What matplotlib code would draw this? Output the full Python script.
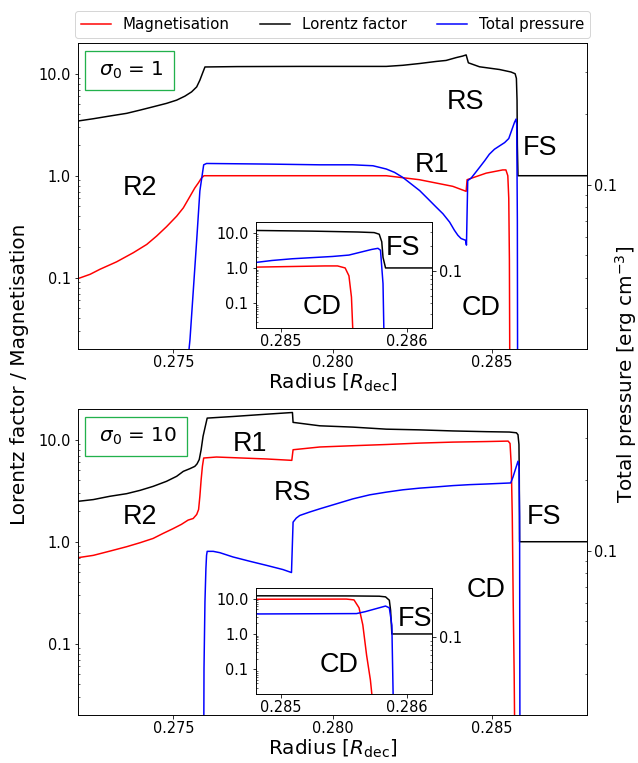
import matplotlib
matplotlib.use("Agg")
import matplotlib.pyplot as plt
from matplotlib.ticker import FormatStrFormatter, NullFormatter

# ---------------- sigma_0 = 1 ----------------
radius_gamma_s1 = [0.27200, 0.27248, 0.27300, 0.27353, 0.27395, 0.27436, 0.27478, 0.27510,
                   0.27536, 0.27557, 0.27573, 0.27583, 0.27591, 0.27599, 0.27700, 0.27900,
                   0.28100, 0.28169, 0.28221, 0.28274, 0.28326, 0.28357, 0.28389, 0.28409,
                   0.28420, 0.28427, 0.28462, 0.28525, 0.28561, 0.28574, 0.28578, 0.28580,
                   0.28581, 0.28583, 0.28800]
gamma_s1 = [3.44, 3.62, 3.85, 4.09, 4.40, 4.74, 5.12, 5.51,
            6.03, 6.64, 7.43, 8.64, 10.05, 11.65, 11.75, 11.8,
            11.8, 11.8, 12.1, 12.6, 13.2, 13.5, 14.4, 14.9,
            15.3, 12.8, 11.7, 11.0, 10.4, 10.0, 9.0, 5.5,
            2.0, 1.0, 1.0]

radius_sigma_s1 = [0.27200, 0.27238, 0.27269, 0.27321, 0.27374, 0.27416, 0.27447, 0.27478,
                   0.27510, 0.27531, 0.27552, 0.27567, 0.27578, 0.27588, 0.27596, 0.27900,
                   0.28169, 0.28273, 0.28378, 0.28420, 0.28423, 0.28483, 0.28535, 0.28545,
                   0.28551, 0.28554, 0.28556, 0.28557, 0.28558, 0.28600]
sigma_s1 = [0.098, 0.108, 0.121, 0.143, 0.176, 0.212, 0.256, 0.316,
            0.401, 0.484, 0.628, 0.758, 0.848, 0.949, 1.0, 1.0,
            1.0, 0.914, 0.787, 0.703, 0.914, 1.06, 1.14, 1.14,
            1.0, 0.6, 0.15, 0.02, 1e-4, 1e-4]

radius_ptot_s1 = [0.27200, 0.27520, 0.27552, 0.27573, 0.27583, 0.27595, 0.27604, 0.27792,
                  0.27960, 0.28063, 0.28127, 0.28169, 0.28195, 0.28221, 0.28247, 0.28274,
                  0.28300, 0.28326, 0.28347, 0.28368, 0.28383, 0.28394, 0.28404, 0.28418,
                  0.28421, 0.28425, 0.28436, 0.28446, 0.28462, 0.28478, 0.28493, 0.28509,
                  0.28525, 0.28541, 0.28554, 0.28563, 0.28572, 0.28577, 0.28579, 0.28581,
                  0.28582, 0.28800]
ptot_s1 = [1e-4, 0.008, 0.022, 0.058, 0.094, 0.1214, 0.1230, 0.1223,
           0.1214, 0.1214, 0.1203, 0.1165, 0.1127, 0.1073, 0.1007, 0.0943,
           0.0870, 0.0802, 0.0752, 0.0693, 0.0640, 0.0609, 0.0590, 0.0580,
           0.0553, 0.1040, 0.1067, 0.1110, 0.1183, 0.1262, 0.1347, 0.1414,
           0.1461, 0.1509, 0.157, 0.170, 0.184, 0.190, 0.180, 0.070,
           0.010, 1e-4]

# ---------------- sigma_0 = 10 ----------------
radius_gamma_s10 = [0.27200, 0.27248, 0.27300, 0.27353, 0.27395, 0.27436, 0.27478, 0.27510,
                    0.27531, 0.27552, 0.27567, 0.27574, 0.27581, 0.27587, 0.27593, 0.27600,
                    0.27606, 0.27687, 0.27792, 0.27874, 0.27876, 0.27960, 0.28064, 0.28169,
                    0.28273, 0.28378, 0.28483, 0.28556, 0.28578, 0.28583, 0.28586, 0.28587,
                    0.28588, 0.28800]
gamma_s10 = [2.49, 2.59, 2.79, 2.96, 3.19, 3.49, 3.91, 4.38,
             4.90, 5.21, 5.48, 5.79, 6.39, 7.99, 10.8, 13.5,
             16.3, 16.9, 17.8, 18.5, 14.8, 13.7, 13.3, 12.7,
             12.5, 12.2, 12.0, 11.9, 11.7, 11.2, 9.0, 4.7,
             1.0, 1.0]

radius_sigma_s10 = [0.27200, 0.27248, 0.27300, 0.27353, 0.27395, 0.27436, 0.27467, 0.27498,
                    0.27525, 0.27546, 0.27562, 0.27573, 0.27579, 0.27583, 0.27587, 0.27591,
                    0.27595, 0.27635, 0.27792, 0.27872, 0.27876, 0.27960, 0.28064, 0.28169,
                    0.28273, 0.28378, 0.28483, 0.28552, 0.28558, 0.28562, 0.28565, 0.28568,
                    0.28571, 0.28573, 0.28575, 0.28600]
sigma_s10 = [0.698, 0.735, 0.809, 0.894, 0.978, 1.077, 1.205, 1.34,
             1.48, 1.63, 1.69, 1.85, 2.07, 2.79, 4.06, 5.49,
             6.62, 6.77, 6.48, 6.28, 7.98, 8.49, 8.74, 8.98,
             9.27, 9.48, 9.6, 9.7, 9.2, 5.5, 1.8, 0.25,
             0.05, 0.01, 1e-4, 1e-4]

radius_ptot_s10 = [0.27200, 0.27594, 0.27596, 0.27599, 0.27602, 0.27604, 0.27606, 0.27625,
                   0.27646, 0.27687, 0.27740, 0.27792, 0.27844, 0.27871, 0.27876, 0.27886,
                   0.27897, 0.27928, 0.27960, 0.28012, 0.28064, 0.28117, 0.28169, 0.28221,
                   0.28274, 0.28326, 0.28378, 0.28431, 0.28483, 0.28560, 0.28567, 0.28583,
                   0.28586, 0.28588, 0.28589, 0.28590, 0.28800]
ptot_s10 = [1e-4, 0.005, 0.0316, 0.0606, 0.0839, 0.0955, 0.0993, 0.0993,
            0.0980, 0.0940, 0.0901, 0.0866, 0.0831, 0.0807, 0.1322, 0.1375,
            0.1411, 0.1459, 0.1506, 0.1581, 0.166, 0.1727, 0.1773, 0.1814,
            0.1844, 0.1866, 0.189, 0.1908, 0.192, 0.194, 0.205, 0.240,
            0.228, 0.14, 0.02, 1e-3, 1e-4]

sigma0_labels = [r" $\sigma_0$ = 1 ", r" $\sigma_0$ = 10 "]
xticks_main = [0.275, 0.280, 0.285]
xticks_zoom = [0.285, 0.286]

# region labels: (text, radius, value) in main and zoom panels
regions_main_s1 = [("R2", 0.27395, 0.76), ("RS", 0.28418, 5.3), ("R1", 0.28314, 1.28),
                   ("FS", 0.28653, 1.88), ("CD", 0.28468, 0.051)]
regions_zoom_s1 = [("FS", 0.28597, 3.7), ("CD", 0.28533, 0.080)]
regions_main_s10 = [("R1", 0.27740, 9.1), ("R2", 0.27395, 1.73), ("RS", 0.27875, 3.0),
                    ("FS", 0.28666, 1.73), ("CD", 0.28484, 0.334)]
regions_zoom_s10 = [("FS", 0.28606, 2.7), ("CD", 0.28546, 0.136)]

LEFT_LIM = (0.02, 20)
RIGHT_LIM = (0.02, 0.4)
TICK_FS = 14.5
LABEL_FS = 20
LW = 1.5
REGION_FONT = dict(family="Liberation Sans", fontsize=27, ha="center", va="center")


def style_axes(ax, twin, xticks):
    for a in (ax, twin):
        a.set_yscale("log")
        a.yaxis.set_major_formatter(FormatStrFormatter("%.1f"))
        a.yaxis.set_minor_formatter(NullFormatter())
        a.tick_params(axis="both", which="major", labelsize=TICK_FS)
        a.tick_params(axis="y", which="minor", direction="in")
    ax.tick_params(axis="x", which="major", pad=2.5)
    ax.set_ylim(*LEFT_LIM)
    twin.set_ylim(*RIGHT_LIM)
    ax.set_xticks(xticks)
    ax.xaxis.set_major_formatter(FormatStrFormatter("%.3f"))


def draw_profiles(ax, twin, data):
    (rg, g, rs, s, rp, p) = data
    l1, = ax.plot(rs, s, color="red", lw=LW, label="Magnetisation")
    l2, = ax.plot(rg, g, color="black", lw=LW, label="Lorentz factor")
    l3, = twin.plot(rp, p, color="blue", lw=LW, label="Total pressure")
    return [l1, l2, l3]


fig = plt.figure(figsize=(638 / 72, 763 / 72), dpi=72)

panels = [
    (0.5426, (radius_gamma_s1, gamma_s1, radius_sigma_s1, sigma_s1, radius_ptot_s1, ptot_s1),
     sigma0_labels[0], regions_main_s1, regions_zoom_s1),
    (0.0629, (radius_gamma_s10, gamma_s10, radius_sigma_s10, sigma_s10, radius_ptot_s10, ptot_s10),
     sigma0_labels[1], regions_main_s10, regions_zoom_s10),
]

handles = None
for bottom, data, lab, reg_main, reg_zoom in panels:
    ax = fig.add_axes([0.1223, bottom, 0.7978, 0.401])
    twin = ax.twinx()
    hl = draw_profiles(ax, twin, data)
    if handles is None:
        handles = hl
    style_axes(ax, twin, xticks_main)
    ax.set_xlim(0.272, 0.288)
    ax.set_xlabel(r"Radius [$R_{\rm dec}$]", fontsize=LABEL_FS, labelpad=1.5)

    ax.text(0.030, 0.945, lab, transform=ax.transAxes, fontsize=20, ha="left", va="top",
            bbox=dict(boxstyle="square,pad=0.42", fc="white", ec="#22b14c", lw=1.3))
    for t, x, y in reg_main:
        ax.text(x, y, t, **REGION_FONT)

    # zoom on the contact discontinuity / forward shock
    axz = fig.add_axes([0.4005, bottom + 0.0275, 0.277, 0.139])
    twz = axz.twinx()
    draw_profiles(axz, twz, data)
    style_axes(axz, twz, xticks_zoom)
    axz.set_xlim(0.2848, 0.2862)
    for t, x, y in reg_zoom:
        axz.text(x, y, t, **REGION_FONT)

fig.text(0.030, 0.51, "Lorentz factor / Magnetisation", rotation=90,
         ha="center", va="center", fontsize=LABEL_FS)
fig.text(0.981, 0.51, r"Total pressure [erg cm$^{-3}$]", rotation=90,
         ha="center", va="center", fontsize=LABEL_FS)

fig.legend(handles, [h.get_label() for h in handles], loc="upper center",
           bbox_to_anchor=(0.521, 0.995), ncol=3, fontsize=15)

fig.savefig("out.png", dpi=72)
